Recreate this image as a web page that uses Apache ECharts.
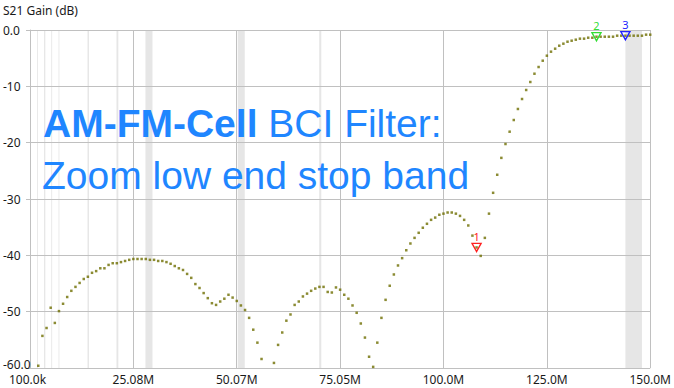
<!DOCTYPE html>
<html>
<head>
<meta charset="utf-8">
<script src="https://cdn.jsdelivr.net/npm/echarts@6/dist/echarts.min.js"></script>
<style>html,body{margin:0;padding:0;background:#fff}#c{width:674px;height:388px}</style>
</head>
<body>
<div id="c"></div>
<script>
// Sweep frequencies (MHz), 151 points, 0.1 MHz .. 150 MHz
var freqMHz = [0.10,1.10,2.10,3.10,4.10,5.10,6.10,7.10,8.09,9.09,10.09,11.09,12.09,13.09,14.09,15.09,16.09,17.09,18.09,19.09,
20.09,21.09,22.09,23.08,24.08,25.08,26.08,27.08,28.08,29.08,30.08,31.08,32.08,33.08,34.08,35.08,36.08,37.08,38.07,39.07,
40.07,41.07,42.07,43.07,44.07,45.07,46.07,47.07,48.07,49.07,50.07,51.07,52.07,53.06,54.06,55.06,56.06,57.06,58.06,59.06,
60.06,61.06,62.06,63.06,64.06,65.06,66.06,67.06,68.05,69.05,70.05,71.05,72.05,73.05,74.05,75.05,76.05,77.05,78.05,79.05,
80.05,81.05,82.05,83.04,84.04,85.04,86.04,87.04,88.04,89.04,90.04,91.04,92.04,93.04,94.04,95.04,96.04,97.04,98.03,99.03,
100.03,101.03,102.03,103.03,104.03,105.03,106.03,107.03,108.03,109.03,110.03,111.03,112.03,113.02,114.02,115.02,116.02,117.02,118.02,119.02,
120.02,121.02,122.02,123.02,124.02,125.02,126.02,127.02,128.01,129.01,130.01,131.01,132.01,133.01,134.01,135.01,136.01,137.01,138.01,139.01,
140.01,141.01,142.01,143.00,144.00,145.00,146.00,147.00,148.00,149.00,150.00];
// S21 gain (dB)
var s21Gain = [-68,-63,-59.6,-54.3,-52.9,-49.3,-52.0,-49.9,-48.6,-47.4,
-46.3,-45.6,-44.9,-44.2,-43.8,-43.1,-42.8,-42.3,-42.3,-41.7,
-41.4,-41.4,-41.2,-41.0,-40.8,-40.65,-40.65,-40.65,-40.65,-40.8,
-40.8,-41.0,-41.0,-41.2,-41.5,-41.9,-42.3,-42.6,-43.3,-44.0,
-45.1,-45.8,-46.7,-47.6,-48.5,-48.8,-48.2,-47.7,-47.0,-47.5,
-48.1,-48.9,-49.7,-51.1,-53.2,-55.5,-58.4,-64,-62,-59.1,
-55.9,-53.7,-51.6,-50.5,-48.8,-48.2,-47.3,-46.8,-46.3,-45.9,
-45.6,-45.6,-46.5,-46.6,-45.7,-46.1,-47.0,-47.7,-48.9,-50.2,
-52.1,-54.6,-58.0,-59.8,-55.5,-51.1,-47.9,-45.4,-43.4,-41.8,
-40.5,-39.1,-37.9,-36.9,-36.0,-35.1,-34.4,-33.7,-33.3,-32.8,
-32.6,-32.4,-32.4,-32.6,-33.0,-33.7,-34.7,-36.5,-38.6,-40.1,
-36.9,-32.6,-28.9,-25.7,-22.7,-20.24,-18.05,-15.98,-14.02,-12.25,
-10.65,-9.23,-7.76,-6.57,-5.45,-4.56,-3.85,-3.32,-2.79,-2.43,
-2.08,-1.90,-1.72,-1.54,-1.54,-1.37,-1.37,-1.19,-1.19,-1.19,
-1.19,-1.19,-1.01,-1.01,-1.01,-1.01,-1.01,-1.01,-1.01,-0.83,-0.83];
// Markers: index into sweep
var markerNames = ['1','2','3'];
var markerIndex = [108,137,144];
var markerColors = ['#ff2020','#33dd33','#2222ff'];
// Amateur bands highlighted (MHz)
var bandStartMHz = [1.80,3.50,5.25,7.00,14.00,21.00,28.00,50.30,70.00,144.00];
var bandEndMHz   = [2.00,3.80,5.45,7.20,14.35,21.45,29.70,52.00,70.50,148.00];
// Axes
var xStartMHz = 0.1, xStopMHz = 150.0, xDivisions = 6;
var yTicks = [-60,-50,-40,-30,-20,-10,0];
var yLabels = ['-60.0','-50','-40','-30','-20','-10','0.0'];

var divW = (xStopMHz - xStartMHz) / xDivisions;
function toU(f){ return (f - xStartMHz) / divW; }
function fmtX(u){
  var f = u * divW + xStartMHz;
  var s;
  if (f < 1) s = (f*1000).toFixed(1) + 'k';
  else if (f >= 99.995) s = f.toFixed(1) + 'M';
  else s = f.toFixed(2) + 'M';
  return u < 0.01 ? '{first|' + s + '}' : s;
}
var pts = freqMHz.map(function(f,i){ return [toU(f), s21Gain[i]]; });
var bands = bandStartMHz.map(function(s,i){ return [{xAxis: toU(s)}, {xAxis: toU(bandEndMHz[i])}]; });
var FF = 'Noto Sans';
var marks = markerIndex.map(function(k,j){
  return {
    coord: [toU(freqMHz[k]), s21Gain[k]],
    itemStyle: {color: 'rgba(255,255,255,0)', borderColor: markerColors[j], borderWidth: 1.4},
    label: {show: true, position: 'top', distance: 1, formatter: markerNames[j], color: markerColors[j], fontSize: 11, fontFamily: FF}
  };
});
var GRID = '#c0c0c0';
var TITLE_C = '#1f86ff';
var TXT = '#1a1a1a';
var chart = echarts.init(document.getElementById('c'), null, {renderer: 'svg'});
chart.setOption({
  animation: false,
  backgroundColor: '#ffffff',
  title: {text: 'S21 Gain (dB)', left: 3, top: 4, textStyle: {fontSize: 12, fontWeight: 'normal', color: TXT, fontFamily: FF}, padding: 0},
  grid: {left: 30, right: 20, top: 30, bottom: 20, containLabel: false},
  xAxis: {
    type: 'value', min: 0, max: xDivisions, interval: 1,
    axisLine: {show: true, lineStyle: {color: GRID, width: 1}},
    axisTick: {show: false},
    splitLine: {show: true, lineStyle: {color: GRID, width: 1}},
    axisLabel: {margin: 5, fontSize: 12, color: TXT, fontFamily: FF, formatter: fmtX,
      rich: {first: {fontSize: 12, color: TXT, fontFamily: FF, padding: [0, 5, 0, 0]}}}
  },
  yAxis: {
    type: 'value', min: yTicks[0], max: yTicks[yTicks.length-1], interval: 10,
    axisLine: {show: true, lineStyle: {color: GRID, width: 1}},
    axisTick: {show: true, length: 4, lineStyle: {color: GRID}},
    splitLine: {show: true, lineStyle: {color: GRID, width: 1}},
    axisLabel: {margin: 27, align: 'left', fontSize: 12, color: TXT, fontFamily: FF,
      formatter: function(v){
        var k = yTicks.indexOf(v); var s = k >= 0 ? yLabels[k] : String(v);
        return v === yTicks[0] ? '{lo|' + s + '}' : s;
      },
      rich: {lo: {fontSize: 12, color: TXT, fontFamily: FF, padding: [0, 0, 8, 0]}}}
  },
  graphic: [
    {type: 'text', left: 43, top: 104, z: 100, silent: true,
     style: {text: '{b|AM-FM-Cell}{n| BCI Filter:}', rich: {
       b: {fontFamily: 'Liberation Sans', fontSize: 39, fontWeight: 'bold', fill: TITLE_C},
       n: {fontFamily: 'Liberation Sans', fontSize: 39, fontWeight: 'normal', fill: TITLE_C}}}},
    {type: 'text', left: 42, top: 156, z: 100, silent: true,
     style: {text: 'Zoom low end stop band', fontFamily: 'Liberation Sans', fontSize: 39, fill: TITLE_C}}
  ],
  series: [{
    type: 'scatter', data: pts, symbol: 'rect', symbolSize: 2.5, clip: true,
    itemStyle: {color: '#6e6e00'},
    markArea: {silent: true, itemStyle: {color: '#e6e6e6'}, data: bands, z: -1},
    markPoint: {symbol: 'triangle', symbolRotate: 180, symbolSize: [9, 8], data: marks, silent: true}
  }]
});
</script>
</body>
</html>
